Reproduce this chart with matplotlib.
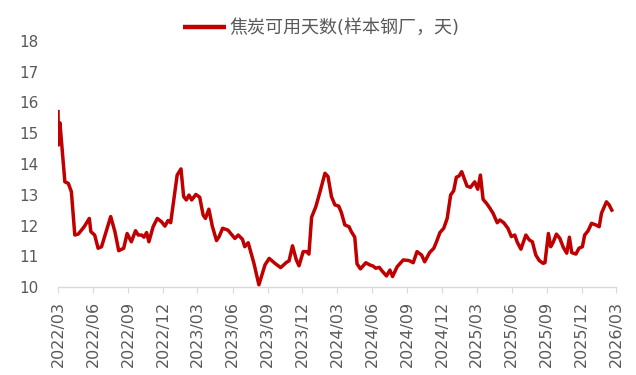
import matplotlib
matplotlib.use("Agg")
import matplotlib.pyplot as plt
import matplotlib.dates as mdates
import pandas as pd

plt.rcParams['font.family'] = ['DejaVu Sans', 'Noto Sans CJK SC']

dates = [
    "2022-03-01", "2022-03-02", "2022-03-06", "2022-03-19", "2022-03-28", "2022-04-05",
    "2022-04-14", "2022-04-23", "2022-05-08", "2022-05-22", "2022-05-26", "2022-06-05",
    "2022-06-14", "2022-06-23", "2022-07-17", "2022-07-28", "2022-08-07", "2022-08-20",
    "2022-08-29", "2022-09-09", "2022-09-20", "2022-09-27", "2022-10-06", "2022-10-12",
    "2022-10-19", "2022-10-25", "2022-11-05", "2022-11-16", "2022-11-27", "2022-12-06",
    "2022-12-14", "2022-12-21", "2022-12-29", "2023-01-07", "2023-01-17", "2023-01-24",
    "2023-01-31", "2023-02-07", "2023-02-14", "2023-02-25", "2023-03-07", "2023-03-16",
    "2023-03-22", "2023-03-31", "2023-04-09", "2023-04-20", "2023-04-27", "2023-05-06",
    "2023-05-20", "2023-06-07", "2023-06-16", "2023-06-27", "2023-07-03", "2023-07-12",
    "2023-07-27", "2023-08-09", "2023-08-25", "2023-09-05", "2023-09-20", "2023-10-05",
    "2023-10-20", "2023-10-27", "2023-11-05", "2023-11-15", "2023-11-22", "2023-12-03",
    "2023-12-12", "2023-12-18", "2023-12-25", "2024-01-05", "2024-01-15", "2024-01-29",
    "2024-02-06", "2024-02-15", "2024-02-24", "2024-03-05", "2024-03-12", "2024-03-21",
    "2024-04-01", "2024-04-07", "2024-04-16", "2024-04-22", "2024-05-01", "2024-05-15",
    "2024-05-25", "2024-06-03", "2024-06-10", "2024-06-19", "2024-06-28", "2024-07-08",
    "2024-07-17", "2024-07-24", "2024-08-05", "2024-08-21", "2024-09-05", "2024-09-16",
    "2024-09-26", "2024-10-08", "2024-10-16", "2024-10-29", "2024-11-09", "2024-11-16",
    "2024-11-25", "2024-12-05", "2024-12-14", "2024-12-23", "2024-12-31", "2025-01-07",
    "2025-01-14", "2025-01-21", "2025-01-29", "2025-02-04", "2025-02-13", "2025-02-24",
    "2025-03-04", "2025-03-11", "2025-03-18", "2025-03-27", "2025-04-05", "2025-04-13",
    "2025-04-24", "2025-05-01", "2025-05-11", "2025-05-22", "2025-05-31", "2025-06-09",
    "2025-06-15", "2025-06-25", "2025-07-08", "2025-07-17", "2025-07-25", "2025-08-03",
    "2025-08-12", "2025-08-22", "2025-08-27", "2025-09-05", "2025-09-11", "2025-09-17",
    "2025-09-26", "2025-10-05", "2025-10-14", "2025-10-23", "2025-10-30", "2025-11-05",
    "2025-11-16", "2025-11-24", "2025-12-03", "2025-12-09", "2025-12-18", "2025-12-27",
    "2026-01-07", "2026-01-16", "2026-01-22", "2026-02-04", "2026-02-11", "2026-02-20",
]
days = [
    15.76, 14.62, 15.34, 13.42, 13.37, 13.10,
    11.69, 11.72, 11.95, 12.23, 11.80, 11.69,
    11.26, 11.31, 12.29, 11.80, 11.18, 11.26,
    11.74, 11.47, 11.83, 11.69, 11.69, 11.62,
    11.77, 11.47, 11.96, 12.23, 12.12, 11.98,
    12.16, 12.09, 12.83, 13.64, 13.84, 12.94,
    12.83, 12.99, 12.83, 13.01, 12.92, 12.34,
    12.23, 12.53, 11.98, 11.51, 11.64, 11.91,
    11.85, 11.58, 11.69, 11.55, 11.31, 11.44,
    10.77, 10.07, 10.72, 10.93, 10.77, 10.63,
    10.80, 10.85, 11.34, 10.88, 10.69, 11.15,
    11.15, 11.07, 12.27, 12.61, 13.05, 13.70,
    13.59, 12.94, 12.67, 12.63, 12.42, 12.02,
    11.96, 11.80, 11.62, 10.75, 10.59, 10.79,
    10.72, 10.68, 10.61, 10.64, 10.50, 10.36,
    10.55, 10.34, 10.66, 10.88, 10.86, 10.79,
    11.15, 11.04, 10.82, 11.12, 11.26, 11.47,
    11.77, 11.91, 12.23, 12.99, 13.13, 13.57,
    13.61, 13.75, 13.48, 13.28, 13.24, 13.42,
    13.18, 13.64, 12.85, 12.72, 12.56, 12.40,
    12.09, 12.18, 12.09, 11.91, 11.64, 11.69,
    11.47, 11.23, 11.69, 11.53, 11.47, 11.04,
    10.86, 10.77, 10.79, 11.74, 11.31, 11.44,
    11.72, 11.58, 11.29, 11.10, 11.62, 11.12,
    11.07, 11.26, 11.31, 11.69, 11.83, 12.07,
    12.02, 11.96, 12.40, 12.77, 12.67, 12.45,
]
series_name = "焦炭可用天数(样本钢厂，天)"
tick_dates = pd.date_range("2022-03-01", "2026-03-01", freq="3MS")
y_ticks = list(range(10, 19))

gray = "#595959"
line_color = "#C00000"

fig = plt.figure(figsize=(6.36, 3.75), dpi=100)
ax = fig.add_axes([58 / 636, 1 - 287 / 375, 558 / 636, 246 / 375])

ax.plot(pd.to_datetime(dates), days, color=line_color, lw=2.5,
        solid_joinstyle="round", solid_capstyle="butt", label=series_name)

ax.set_xlim(tick_dates[0], tick_dates[-1])
ax.set_ylim(10, 18)
ax.set_yticks(y_ticks)
ax.set_xticks(tick_dates)
ax.xaxis.set_major_formatter(mdates.DateFormatter("%Y/%m"))

for s in ["top", "right", "left"]:
    ax.spines[s].set_visible(False)
ax.spines["bottom"].set_color("#D9D9D9")
ax.spines["bottom"].set_linewidth(1.0)

ax.tick_params(axis="y", length=0, pad=14, labelsize=11, labelcolor=gray)
ax.tick_params(axis="x", length=4, color="#D9D9D9", pad=6, labelsize=11.5,
               labelcolor=gray, labelrotation=90)

leg = ax.legend(loc="center", bbox_to_anchor=(321 / 636, 1 - 28 / 375),
                bbox_transform=fig.transFigure, frameon=False,
                fontsize=13, handlelength=2.4, handletextpad=0.15,
                borderaxespad=0)
leg.get_lines()[0].set_linewidth(3.2)
for t in leg.get_texts():
    t.set_color(gray)

fig.savefig("out.png", dpi=100)
